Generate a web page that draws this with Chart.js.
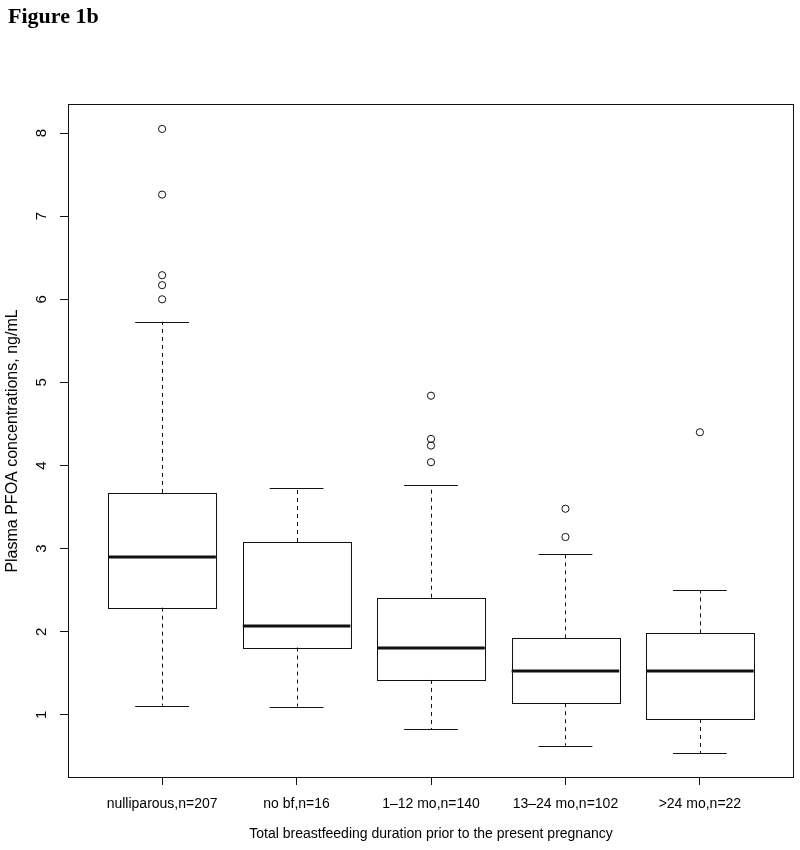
<!DOCTYPE html>
<html>
<head>
<meta charset="utf-8">
<script src="https://cdn.jsdelivr.net/npm/chart.js@4.4.0/dist/chart.umd.min.js"></script>
<style>
    html, body { margin: 0; padding: 0; background: #fff; }
    #wrap { position: relative; width: 800px; height: 850px; }
    #fig { position: absolute; left: 8px; top: 3px; font: bold 22px "Liberation Serif", "Times New Roman", serif; color: #000; }
</style>
</head>
<body>
<div id="wrap">
    <div id="fig">Figure 1b</div>
    <canvas id="boxChart" width="800" height="850"></canvas>
</div>
<script>
// Data
const categories = ['nulliparous,n=207', 'no bf,n=16', '1\u201312 mo,n=140', '13\u201324 mo,n=102', '>24 mo,n=22'];
const lowerWhisker = [1.11, 1.10, 0.83, 0.63, 0.54];
const q1 = [2.29, 1.81, 1.42, 1.14, 0.95];
const medians = [2.90, 2.07, 1.80, 1.53, 1.53];
const q3 = [3.67, 3.08, 2.41, 1.92, 1.98];
const upperWhisker = [5.73, 3.73, 3.76, 2.93, 2.50];
const outliers = [
    [8.05, 7.26, 6.29, 6.17, 6.00],
    [],
    [4.84, 4.32, 4.24, 4.04],
    [3.48, 3.14],
    [4.40]
];
const yTicks = [1, 2, 3, 4, 5, 6, 7, 8];

const xTitle = 'Total breastfeeding duration prior to the present pregnancy';
const yTitle = 'Plasma PFOA concentrations, ng/mL';

Chart.defaults.font.family = '"Liberation Sans", Arial, Helvetica, sans-serif';
Chart.defaults.font.size = 14;
Chart.defaults.color = '#000';

const ink = '#111';
const boxWidth = 0.8;   // in category units, like R's boxwex
const capWidth = 0.4;

// draws boxes, whiskers, plot frame and rotated y tick labels
const boxPlotPlugin = {
    id: 'boxPlot',
    beforeDatasetsDraw(chart) {
        const { ctx, scales: { x, y } } = chart;
        const crisp = v => Math.round(v) + 0.5;
        ctx.save();
        ctx.strokeStyle = ink;
        categories.forEach((c, i) => {
            const cx = x.getPixelForValue(i + 1);
            const left = x.getPixelForValue(i + 1 - boxWidth / 2);
            const right = x.getPixelForValue(i + 1 + boxWidth / 2);
            const capL = x.getPixelForValue(i + 1 - capWidth / 2);
            const capR = x.getPixelForValue(i + 1 + capWidth / 2);
            const yLo = y.getPixelForValue(lowerWhisker[i]);
            const yQ1 = y.getPixelForValue(q1[i]);
            const yMed = y.getPixelForValue(medians[i]);
            const yQ3 = y.getPixelForValue(q3[i]);
            const yHi = y.getPixelForValue(upperWhisker[i]);

            // whiskers (dashed)
            ctx.lineWidth = 1;
            ctx.setLineDash([4, 4]);
            ctx.beginPath();
            ctx.moveTo(crisp(cx), yQ3);
            ctx.lineTo(crisp(cx), yHi);
            ctx.moveTo(crisp(cx), yQ1);
            ctx.lineTo(crisp(cx), yLo);
            ctx.stroke();
            ctx.setLineDash([]);

            // caps
            ctx.beginPath();
            ctx.moveTo(capL, crisp(yHi));
            ctx.lineTo(capR, crisp(yHi));
            ctx.moveTo(capL, crisp(yLo));
            ctx.lineTo(capR, crisp(yLo));
            ctx.stroke();

            // box
            ctx.strokeRect(crisp(left), crisp(yQ3), Math.round(right - left), Math.round(yQ1 - yQ3));

            // median
            ctx.lineWidth = 3;
            ctx.beginPath();
            ctx.moveTo(left, Math.round(yMed));
            ctx.lineTo(right, Math.round(yMed));
            ctx.stroke();
        });
        ctx.restore();
    },
    afterDraw(chart) {
        const { ctx, chartArea, scales: { y } } = chart;
        ctx.save();
        ctx.strokeStyle = ink;
        ctx.lineWidth = 1;
        ctx.strokeRect(Math.round(chartArea.left) + 0.5, Math.round(chartArea.top) + 0.5,
            Math.round(chartArea.right - chartArea.left) - 1, Math.round(chartArea.bottom - chartArea.top) - 1);

        // y tick labels, parallel to the axis
        ctx.fillStyle = '#000';
        ctx.font = '15px "Liberation Sans", Arial, sans-serif';
        ctx.textAlign = 'center';
        ctx.textBaseline = 'middle';
        yTicks.forEach(v => {
            ctx.save();
            ctx.translate(42, y.getPixelForValue(v));
            ctx.rotate(-Math.PI / 2);
            ctx.fillText(String(v), 0, 0);
            ctx.restore();
        });
        ctx.restore();
    }
};

const outlierPoints = [];
outliers.forEach((list, i) => list.forEach(v => outlierPoints.push({ x: i + 1, y: v })));

new Chart(document.getElementById('boxChart'), {
    type: 'scatter',
    data: {
        datasets: [{
            label: 'outliers',
            data: outlierPoints,
            pointStyle: 'circle',
            pointRadius: 3.6,
            borderWidth: 1,
            borderColor: ink,
            backgroundColor: 'rgba(0,0,0,0)'
        }]
    },
    options: {
        responsive: false,
        animation: false,
        layout: { padding: { top: 104, right: 6, left: 0, bottom: 0 } },
        plugins: {
            legend: { display: false },
            tooltip: { enabled: false }
        },
        scales: {
            x: {
                type: 'linear',
                min: 0.3,
                max: 5.7,
                afterBuildTicks: axis => {
                    axis.ticks = categories.map((c, i) => ({ value: i + 1 }));
                },
                afterFit: axis => { axis.height = 72; },
                ticks: {
                    callback: (value, index) => categories[index],
                    autoSkip: false,
                    maxRotation: 0,
                    padding: 11,
                    color: '#000'
                },
                grid: { drawOnChartArea: false, tickLength: 7, color: ink },
                border: { display: false },
                title: {
                    display: true,
                    text: xTitle,
                    color: '#000',
                    padding: { top: 0, bottom: 7 }
                }
            },
            y: {
                min: 0.24,
                max: 8.35,
                afterBuildTicks: axis => {
                    axis.ticks = yTicks.map(v => ({ value: v }));
                },
                afterFit: axis => { axis.width = 68; },
                ticks: { display: false },
                grid: { drawOnChartArea: false, tickLength: 8, color: ink },
                border: { display: false },
                title: {
                    display: true,
                    text: yTitle,
                    color: '#000',
                    font: { size: 16 },
                    padding: { top: 3, bottom: 4 }
                }
            }
        }
    },
    plugins: [boxPlotPlugin]
});
</script>
</body>
</html>
